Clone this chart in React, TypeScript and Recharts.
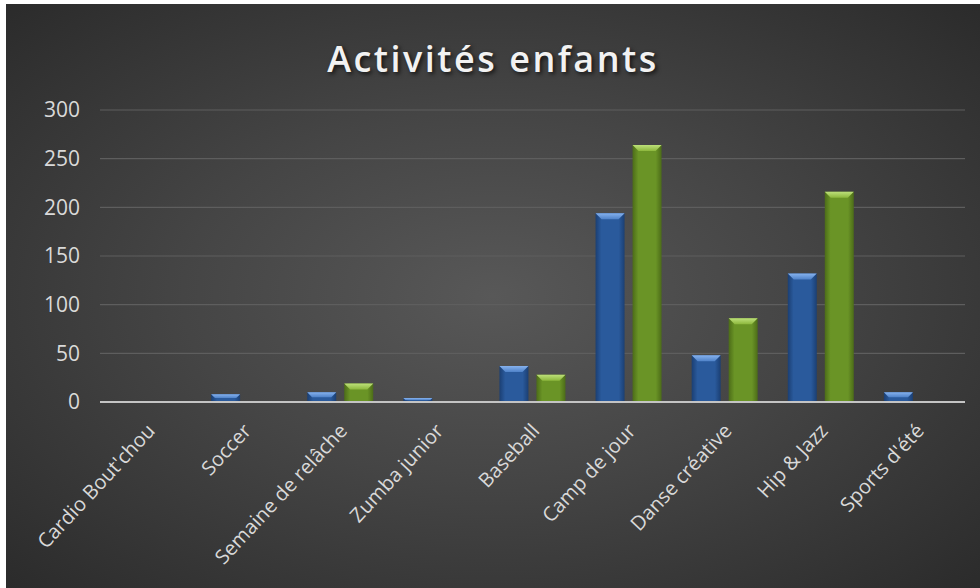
import React from "react";
import { BarChart, Bar, XAxis, YAxis, CartesianGrid } from "recharts";

const categories = [
  "Cardio Bout'chou",
  "Soccer",
  "Semaine de relâche",
  "Zumba junior",
  "Baseball",
  "Camp de jour",
  "Danse créative",
  "Hip & Jazz",
  "Sports d'été",
];
const serie1 = [0, 8, 10, 4, 37, 194, 48, 132, 10];
const serie2 = [0, 0, 19, 0, 28, 264, 86, 216, 0];
const yTicks = [0, 50, 100, 150, 200, 250, 300];

const data = categories.map((name, i) => ({
  name,
  serie1: serie1[i],
  serie2: serie2[i],
}));

const FONT = "'Open Sans', 'DejaVu Sans', sans-serif";

const BevelBar = (props: any) => {
  const { x, y, width, height, tone } = props;
  if (!height || height <= 0) return null;
  const b = Math.min(6, height / 2, width / 2);
  return (
    <g>
      <rect x={x} y={y} width={width} height={height} fill={`url(#body-${tone})`} />
      <polygon
        points={`${x},${y} ${x + width},${y} ${x + width - b},${y + b} ${x + b},${y + b}`}
        fill={`url(#top-${tone})`}
      />
    </g>
  );
};

const CatTick = (props: any) => {
  const { x, y, payload } = props;
  return (
    <g transform={`translate(${x + 3},${y + 25})`}>
      <text
        x={0}
        y={0}
        dy="0.35em"
        textAnchor="end"
        fill="#d9d9d9"
        fontSize={20}
        fontFamily={FONT}
        transform="rotate(-47)"
      >
        {payload.value}
      </text>
    </g>
  );
};

export default function App() {
  return (
    <div
      style={{
        position: "absolute",
        left: 0,
        top: 0,
        width: 980,
        height: 588,
        background: "#ffffff",
        overflow: "hidden",
      }}
    >
      <div
        style={{
          position: "absolute",
          left: 6,
          top: 4,
          width: 974,
          height: 584,
          background:
            "radial-gradient(ellipse at 50% 50%, #585858 0%, #454545 45%, #2b2b2b 100%)",
        }}
      >
        <div
          style={{
            position: "absolute",
            left: 0,
            width: 974,
            top: 30,
            textAlign: "center",
            color: "#f2f2f2",
            fontFamily: FONT,
            fontWeight: 600,
            fontSize: 36,
            lineHeight: "49px",
            letterSpacing: 2.5,
            textShadow: "2px 2px 4px rgba(0,0,0,0.7)",
          }}
        >
          Activités enfants
        </div>
        <BarChart
          width={974}
          height={584}
          data={data}
          margin={{ top: 106, right: 15, left: 0, bottom: 0 }}
          barSize={29}
          barGap={8}
          style={{ position: "absolute", left: 0, top: 0 }}
        >
          <defs>
            <linearGradient id="body-blue" x1="0" y1="0" x2="1" y2="0">
              <stop offset="0%" stopColor="#1b3f73" />
              <stop offset="20%" stopColor="#2a5a9c" />
              <stop offset="80%" stopColor="#2a5a9c" />
              <stop offset="100%" stopColor="#1b3f73" />
            </linearGradient>
            <linearGradient id="top-blue" x1="0" y1="0" x2="0" y2="1">
              <stop offset="0%" stopColor="#86b2ee" />
              <stop offset="100%" stopColor="#4f82c8" />
            </linearGradient>
            <linearGradient id="body-green" x1="0" y1="0" x2="1" y2="0">
              <stop offset="0%" stopColor="#4c6c18" />
              <stop offset="20%" stopColor="#6a9426" />
              <stop offset="80%" stopColor="#6a9426" />
              <stop offset="100%" stopColor="#4c6c18" />
            </linearGradient>
            <linearGradient id="top-green" x1="0" y1="0" x2="0" y2="1">
              <stop offset="0%" stopColor="#bde07a" />
              <stop offset="100%" stopColor="#8cb73c" />
            </linearGradient>
          </defs>
          <CartesianGrid vertical={false} stroke="#5e5e5e" strokeWidth={1.2} />
          <XAxis
            dataKey="name"
            interval={0}
            height={186}
            tickLine={false}
            tickSize={0}
            tickMargin={0}
            axisLine={{ stroke: "#c4c4c4", strokeWidth: 2 }}
            tick={<CatTick />}
          />
          <YAxis
            width={94}
            domain={[0, 300]}
            ticks={yTicks}
            interval={0}
            axisLine={false}
            tickLine={false}
            tickSize={0}
            tickMargin={20}
            tick={{ fill: "#d9d9d9", fontSize: 21, fontFamily: FONT }}
          />
          <Bar
            dataKey="serie1"
            name="Série 1"
            isAnimationActive={false}
            shape={(p: any) => <BevelBar {...p} tone="blue" />}
          />
          <Bar
            dataKey="serie2"
            name="Série 2"
            isAnimationActive={false}
            shape={(p: any) => <BevelBar {...p} tone="green" />}
          />
        </BarChart>
      </div>
    </div>
  );
}
